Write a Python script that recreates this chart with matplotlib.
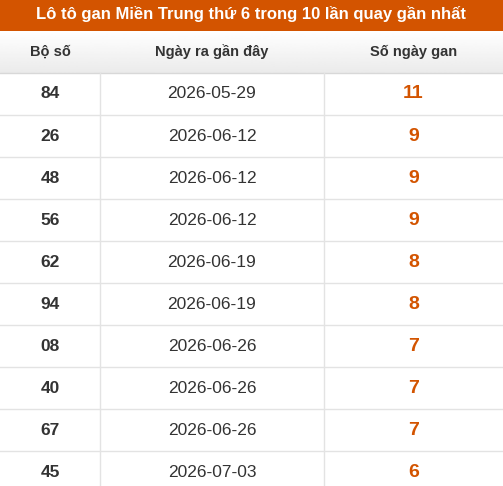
import matplotlib
matplotlib.use("Agg")
import matplotlib.pyplot as plt
from matplotlib.patches import Rectangle
import numpy as np

title = "Lô tô gan Miền Trung thứ 6 trong 10 lần quay gần nhất"
headers = ["Bộ số", "Ngày ra gần đây", "Số ngày gan"]
numbers = ["84", "26", "48", "56", "62", "94", "08", "40", "67", "45"]
dates = ["2026-05-29", "2026-06-12", "2026-06-12", "2026-06-12", "2026-06-19",
         "2026-06-19", "2026-06-26", "2026-06-26", "2026-06-26", "2026-07-03"]
gan_days = [11, 9, 9, 9, 8, 8, 7, 7, 7, 6]

W, H = 503, 486
col_edges = [0, 100, 324, 503]
title_h = 31
header_h = 42
row_h = 42
orange = "#d35400"
line_c = "#e3e3e3"

fig = plt.figure(figsize=(W / 100, H / 100), dpi=100)
ax = fig.add_axes([0, 0, 1, 1])
ax.set_xlim(0, W)
ax.set_ylim(H, 0)
ax.axis("off")
plt.rcParams["font.family"] = ["Liberation Sans", "DejaVu Sans"]

# title bar
ax.add_patch(Rectangle((0, 0), W, title_h, color=orange, lw=0))
ax.text(W / 2, title_h / 2 - 2, title, ha="center", va="center",
        color="white", fontsize=12, fontweight="bold")

# header with light gradient
grad = np.linspace(1.0, 0.92, 50).reshape(-1, 1)
ax.imshow(grad, cmap="gray", vmin=0, vmax=1, aspect="auto",
          extent=(0, W, title_h + header_h, title_h), zorder=0)
centers = [(col_edges[i] + col_edges[i + 1]) / 2 for i in range(3)]
for cx, h in zip(centers, headers):
    ax.text(cx, title_h + header_h / 2, h, ha="center", va="center",
            fontsize=10.5, fontweight="bold", color="#333333")
ax.plot([0, W], [title_h + header_h] * 2, color="#d8d8d8", lw=1)

top = title_h + header_h
for i, (n, d, g) in enumerate(zip(numbers, dates, gan_days)):
    y0 = top + i * row_h
    yc = y0 + row_h / 2
    ax.text(centers[0], yc, n, ha="center", va="center", fontsize=12.5,
            fontweight="bold", color="#333333")
    ax.text(centers[1], yc, d, ha="center", va="center", fontsize=12.5,
            color="#333333")
    ax.text(centers[2], yc, str(g), ha="center", va="center", fontsize=14,
            fontweight="bold", color=orange)
    ax.plot([0, W], [y0 + row_h] * 2, color=line_c, lw=1)

for x in col_edges[1:3]:
    ax.plot([x, x], [top, H], color=line_c, lw=1)

fig.savefig("out.png", dpi=100)
